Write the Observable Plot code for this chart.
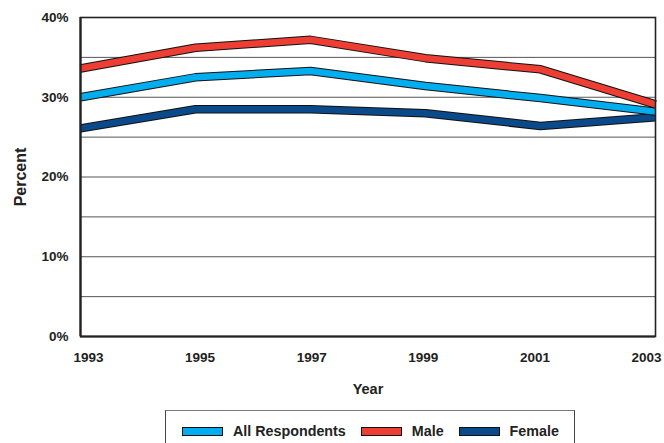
<!DOCTYPE html>
<html>
<head>
<meta charset="utf-8">
<script src="https://cdn.jsdelivr.net/npm/d3@7"></script>
<script src="https://cdn.jsdelivr.net/npm/@observablehq/plot@0.6"></script>
<style>
  body { margin: 0; background: #fff; font-family: "Liberation Sans", Arial, sans-serif; }
  #wrap { position: relative; width: 664px; height: 443px; overflow: hidden; }
  #legend { position: absolute; left: 165px; top: 410px; width: 410px; height: 50px;
    border: 1px solid #444; border-top-color: #777; box-sizing: border-box;
    display: flex; align-items: flex-start; padding: 12px 0 0 16px; }
  .item { display: flex; align-items: center; margin-right: 15px; font-weight: bold; font-size: 14.3px; color: #222; }
  .sw { width: 39px; height: 7px; border: 1px solid #111; margin-right: 10px; }
</style>
</head>
<body>
<div id="wrap">
  <div id="chart"></div>
  <div id="legend"></div>
</div>
<script>
const years = [1993, 1995, 1997, 1999, 2001, 2003];
const allRespondents = [30.0, 32.5, 33.3, 31.4, 29.9, 28.2];
const male = [33.6, 36.2, 37.2, 34.9, 33.5, 29.1];
const female = [26.1, 28.5, 28.5, 28.0, 26.4, 27.5];
const seriesNames = ["Female", "All Respondents", "Male"];
const seriesColors = {"All Respondents": "#00aeef", "Male": "#ee3d33", "Female": "#0a4a8a"};
const legendOrder = ["All Respondents", "Male", "Female"];
const yTicks = [0, 10, 20, 30, 40];
const gridValues = [5, 10, 15, 20, 25, 30, 35];

const seriesValues = {"All Respondents": allRespondents, "Male": male, "Female": female};
const data = seriesNames.flatMap(s => years.map((y, i) => ({series: s, year: y, value: seriesValues[s][i]})));

const marks = [
  Plot.ruleY(gridValues, {stroke: "#555", strokeWidth: 1}),
];
for (const s of seriesNames) {
  const d = data.filter(r => r.series === s);
  marks.push(Plot.line(d, {x: "year", y: "value", stroke: "#111", strokeWidth: 8.5, strokeLinejoin: "miter", strokeLinecap: "butt"}));
  marks.push(Plot.line(d, {x: "year", y: "value", stroke: seriesColors[s], strokeWidth: 6.5, strokeLinejoin: "miter", strokeLinecap: "butt"}));
}
marks.push(Plot.frame({stroke: "#222", strokeWidth: 1.6}));
marks.push(Plot.ruleX([1993], {stroke: "#222", strokeWidth: 2.2}));
marks.push(Plot.ruleY([0], {stroke: "#222", strokeWidth: 2.2}));
// tick labels in the original are spread slightly narrower than the plot frame
const first = years[0], last = years[years.length - 1];
for (const yr of years) {
  const t = (yr - first) / (last - first);
  marks.push(Plot.axisX({ticks: [yr], tickFormat: d => String(d), tickSize: 0, tickPadding: 16,
    fontSize: 13.5, fontWeight: "bold", label: null, dx: 8 - 17 * t}));
}
marks.push(Plot.axisX({ticks: [], label: "Year", labelAnchor: "center", labelOffset: 57, labelArrow: "none"}));
marks.push(Plot.axisY({ticks: yTicks, tickFormat: d => d + "%", tickSize: 0, tickPadding: 12,
  fontSize: 13.5, fontWeight: "bold", label: "Percent", labelAnchor: "center", labelOffset: 66, labelArrow: "none"}));

const chart = Plot.plot({
  width: 664,
  height: 405,
  marginLeft: 80,
  marginRight: 9,
  marginTop: 17,
  marginBottom: 69,
  style: {fontFamily: "Liberation Sans, Arial, sans-serif", color: "#222", background: "#fff"},
  x: {domain: [1993, 2003]},
  y: {domain: [0, 40]},
  marks
});
chart.querySelectorAll("text").forEach(t => {
  if (t.textContent === "Year" || t.textContent === "Percent") {
    t.style.fontSize = t.textContent === "Percent" ? "16px" : "14.5px";
    t.style.fontWeight = "bold";
  }
});
document.getElementById("chart").appendChild(chart);

const legend = document.getElementById("legend");
for (const s of legendOrder) {
  const item = document.createElement("div");
  item.className = "item";
  const sw = document.createElement("div");
  sw.className = "sw";
  sw.style.background = seriesColors[s];
  const label = document.createElement("span");
  label.textContent = s;
  item.appendChild(sw);
  item.appendChild(label);
  legend.appendChild(item);
}
</script>
</body>
</html>
